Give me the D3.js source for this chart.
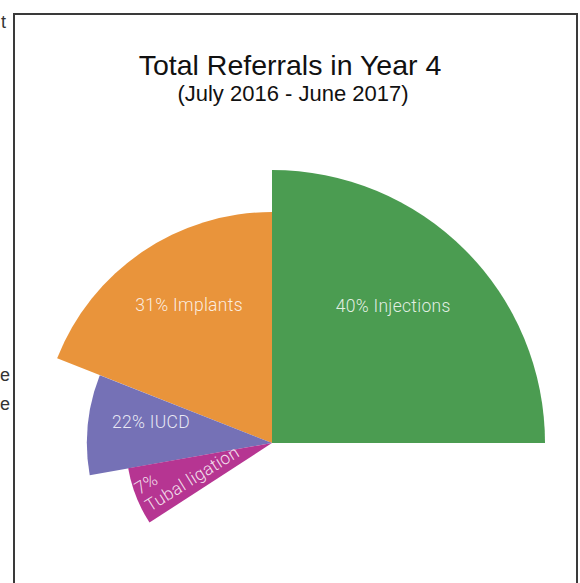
<!DOCTYPE html>
<html>
<head>
<meta charset="utf-8">
<script src="https://cdn.jsdelivr.net/npm/d3@7"></script>
<style>
  html, body { margin: 0; padding: 0; background: #fff; }
  svg { display: block; }
</style>
</head>
<body>
<svg id="chart" width="580" height="583"></svg>
<script>
// Referral shares by method, Year 4
const categories = ["Injections", "Implants", "IUCD", "Tubal ligation"];
const shares = [40, 31, 22, 7];
const colors = ["#4b9c51", "#e9943b", "#7571b6", "#b63592"];

// Petal layout: angular sweep (degrees) and reach relative to the largest petal.
// Injections opens clockwise from 12 o'clock, the rest fan out counter-clockwise.
const sweepDeg = [90, 68.5, 31.5, 23];
const reach = [1, 0.846, 0.678, 0.535];

// Label anchors in polar form: [angle in degrees from 12 o'clock, relative radius]
const labelPolar = [[41.5, 0.67], [-31, 0.59], [-80, 0.45], [-119.5, 0.513]];

const svg = d3.select("#chart");
const cx = 272, cy = 443, R = 273;

const rScale = d3.scaleLinear().domain([0, 1]).range([0, R]);
const aScale = d3.scaleLinear().domain([0, 360]).range([0, 2 * Math.PI]);

// Stack the petals: first one clockwise, others counter-clockwise from 0
const petals = [];
let ccw = 0;
categories.forEach((c, i) => {
  let a0, a1;
  if (i === 0) { a0 = 0; a1 = sweepDeg[0]; }
  else { a1 = ccw; a0 = ccw - sweepDeg[i]; ccw = a0; }
  petals.push({ cat: c, share: shares[i], color: colors[i], a0, a1, r: reach[i], i });
});

// Frame around the figure
svg.append("path")
  .attr("d", "M14,583 V14 H577 V583")
  .attr("fill", "none")
  .attr("stroke", "#3a3a3a")
  .attr("stroke-width", 2);

// Fragments of adjoining page text
const side = svg.append("g")
  .attr("font-family", "'Liberation Sans', Arial, sans-serif")
  .attr("font-size", 18)
  .attr("fill", "#333");
side.append("text").attr("x", 1).attr("y", 28).text("t");
side.append("text").attr("x", 0).attr("y", 381).text("e");
side.append("text").attr("x", 0).attr("y", 410).text("e");

// Title
svg.append("text")
  .attr("x", 290).attr("y", 75)
  .attr("text-anchor", "middle")
  .attr("font-family", "'Liberation Sans', Arial, sans-serif")
  .attr("font-size", 28.5)
  .attr("fill", "#111")
  .text("Total Referrals in Year 4");
svg.append("text")
  .attr("x", 293).attr("y", 101)
  .attr("text-anchor", "middle")
  .attr("font-family", "'Liberation Sans', Arial, sans-serif")
  .attr("font-size", 22)
  .attr("fill", "#111")
  .text("(July 2016 - June 2017)");

const g = svg.append("g").attr("transform", `translate(${cx},${cy})`);

const arc = d3.arc()
  .innerRadius(0)
  .outerRadius(d => rScale(d.r))
  .startAngle(d => aScale(d.a0))
  .endAngle(d => aScale(d.a1));

g.selectAll("path.petal")
  .data(petals)
  .join("path")
  .attr("class", "petal")
  .attr("d", arc)
  .attr("fill", d => d.color);

// Labels
const polar = (deg, rel) => {
  const a = aScale(deg), r = rScale(rel);
  return [r * Math.sin(a), -r * Math.cos(a)];
};

const labelFont = "Roboto, 'Open Sans', sans-serif";
petals.slice(0, 3).forEach(d => {
  const [x, y] = polar(labelPolar[d.i][0], labelPolar[d.i][1]);
  g.append("text")
    .attr("x", x).attr("y", y)
    .attr("text-anchor", "middle")
    .attr("dominant-baseline", "central")
    .attr("font-family", labelFont)
    .attr("font-weight", 300)
    .attr("font-size", 17.5)
    .attr("letter-spacing", 0.3)
    .attr("fill", "#fff")
    .attr("fill-opacity", 0.85)
    .text(`${d.share}% ${d.cat}`);
});

// Narrow petal: label runs along the radius in two lines
{
  const d = petals[3];
  const [x, y] = polar(labelPolar[3][0], labelPolar[3][1]);
  const t = g.append("g")
    .attr("transform", `translate(${x},${y}) rotate(-32)`)
    .attr("font-family", labelFont)
    .attr("font-weight", 300)
    .attr("font-size", 17.5)
    .attr("letter-spacing", 0.3)
    .attr("fill", "#fff")
    .attr("fill-opacity", 0.85);
  t.append("text").attr("x", 0).attr("y", -20).text(`${d.share}%`);
  t.append("text").attr("x", 0).attr("y", 0).text(d.cat);
}
</script>
</body>
</html>
